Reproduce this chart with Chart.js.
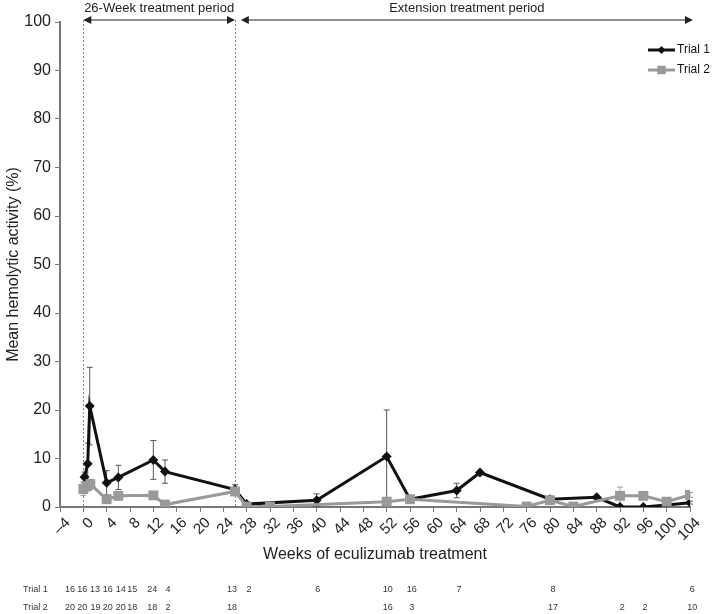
<!DOCTYPE html>
<html>
<head>
<meta charset="utf-8">
<script src="https://cdn.jsdelivr.net/npm/chart.js@4.4.0/dist/chart.umd.min.js"></script>
<style>html,body{margin:0;padding:0;background:#fff}</style>
</head>
<body>
<canvas id="myChart" width="713" height="614"></canvas>
<script>
// Trial 1 (black diamonds)
const weeks1 = [0.2, 0.75, 1.1, 4, 6, 12, 14, 26, 28, 40, 52, 56, 64, 68, 80, 88, 92, 96, 100, 104];
const trial1 = [6.2, 8.9, 20.8, 5.0, 6.1, 9.7, 7.3, 3.6, 0.6, 1.4, 10.4, 1.6, 3.4, 7.1, 1.6, 2.0, 0, 0, 0.4, 0.9];
const err1   = [1.0, 4.3, 8.0, 2.5, 2.5, 4.0, 2.4, 1.0, 0, 1.3, 9.6, 0.5, 1.5, 0, 0.5, 0, 0, 0, 0, 0.3];
// Trial 2 (grey squares)
const weeks2 = [0, 0.6, 1.2, 4, 6, 12, 14, 26, 28, 32, 52, 56, 76, 80, 84, 92, 96, 100, 104];
const trial2 = [3.7, 4.3, 4.7, 1.6, 2.3, 2.4, 0.5, 3.2, 0.1, 0.1, 1.1, 1.6, 0.1, 1.4, 0.1, 2.3, 2.3, 1.1, 2.5];
const err2   = [1.3, 1.0, 1.0, 0, 0, 0.5, 0, 0.8, 0, 0, 0, 0, 0, 0.5, 0, 1.8, 0.5, 0, 0.5];

// patient counts under the axis
const countWeeks1 = [-2.3, -0.2, 2, 4.2, 6.4, 8.4, 11.8, 14.5, 25.5, 28.4, 40.2, 52.2, 56.3, 64.4, 80.5, 104.4];
const counts1     = [16, 16, 13, 16, 14, 15, 24, 4, 13, 2, 6, 10, 16, 7, 8, 6];
const countWeeks2 = [-2.3, -0.2, 2.1, 4.2, 6.4, 8.4, 11.8, 14.5, 25.5, 52.2, 56.3, 80.5, 92.4, 96.3, 104.4];
const counts2     = [20, 20, 19, 20, 20, 18, 18, 2, 18, 16, 3, 17, 2, 2, 10];

// treatment periods
const periodLines = [0, 26];
const periods = [
  {label: '26-Week treatment period', from: 0, to: 26},
  {label: 'Extension treatment period', from: 27, to: 104.5}
];

Chart.defaults.font.family = "'Liberation Sans', Arial, sans-serif";

function arrowHead(ctx, x, y, dir) {
  ctx.beginPath();
  ctx.moveTo(x, y);
  ctx.lineTo(x - dir * 8, y - 4);
  ctx.lineTo(x - dir * 8, y + 4);
  ctx.closePath();
  ctx.fill();
}

const extras = {
  id: 'extras',
  beforeDatasetsDraw(c) {
    const {ctx, chartArea: a} = c;
    const x = c.scales.x, y = c.scales.y;
    ctx.save();
    // dotted period separators
    ctx.strokeStyle = '#888';
    ctx.lineWidth = 1;
    ctx.setLineDash([2, 2]);
    periodLines.forEach(w => {
      const px = Math.round(x.getPixelForValue(w)) + 0.5;
      ctx.beginPath();
      ctx.moveTo(px, a.top - 2);
      ctx.lineTo(px, a.bottom);
      ctx.stroke();
    });
    ctx.setLineDash([]);
    // error bars
    const bars = [[weeks1, trial1, err1, '#555'], [weeks2, trial2, err2, '#999']];
    bars.forEach(([ws, vs, es, col]) => {
      ctx.strokeStyle = col;
      ctx.lineWidth = 1;
      ws.forEach((w, i) => {
        if (!es[i]) return;
        const px = x.getPixelForValue(w);
        const top = y.getPixelForValue(vs[i] + es[i]);
        const bot = y.getPixelForValue(Math.max(0, vs[i] - es[i]));
        ctx.beginPath();
        ctx.moveTo(px, top); ctx.lineTo(px, bot);
        ctx.moveTo(px - 3, top); ctx.lineTo(px + 3, top);
        ctx.moveTo(px - 3, bot); ctx.lineTo(px + 3, bot);
        ctx.stroke();
      });
    });
    ctx.restore();
  },
  afterDraw(c) {
    const {ctx, chartArea: a} = c;
    const x = c.scales.x;
    ctx.save();
    // period arrows and labels
    ctx.strokeStyle = '#222';
    ctx.fillStyle = '#222';
    ctx.lineWidth = 1.2;
    ctx.font = "13px 'Liberation Sans', Arial, sans-serif";
    ctx.textAlign = 'center';
    ctx.textBaseline = 'middle';
    periods.forEach(p => {
      const x0 = x.getPixelForValue(p.from), x1 = x.getPixelForValue(p.to);
      const ay = a.top - 2;
      ctx.beginPath();
      ctx.moveTo(x0 + 4, ay); ctx.lineTo(x1 - 4, ay);
      ctx.stroke();
      arrowHead(ctx, x0, ay, -1);
      arrowHead(ctx, x1, ay, 1);
      ctx.fillText(p.label, (x0 + x1) / 2, a.top - 14);
    });
    // legend
    const items = [
      {label: 'Trial 1', color: '#111', style: 'rectRot', r: 4, w: 3},
      {label: 'Trial 2', color: '#999', style: 'rect', r: 6, w: 3}
    ];
    ctx.font = "12px 'Liberation Sans', Arial, sans-serif";
    ctx.textAlign = 'left';
    items.forEach((it, i) => {
      const ly = 50 + i * 20;
      ctx.strokeStyle = it.color;
      ctx.lineWidth = it.w;
      ctx.beginPath();
      ctx.moveTo(a.right - 42, ly); ctx.lineTo(a.right - 15, ly);
      ctx.stroke();
      ctx.fillStyle = it.color;
      Chart.helpers.drawPoint(ctx, {pointStyle: it.style, radius: it.r, borderWidth: 0}, a.right - 28.5, ly);
      ctx.fillStyle = '#111';
      ctx.fillText(it.label, a.right - 13, ly);
    });
    // count table
    ctx.font = "9px 'Liberation Sans', Arial, sans-serif";
    ctx.fillStyle = '#333';
    const rows = [['Trial 1', countWeeks1, counts1, 590], ['Trial 2', countWeeks2, counts2, 608]];
    rows.forEach(([name, ws, ns, ry]) => {
      ctx.textAlign = 'left';
      ctx.fillText(name, 23, ry);
      ctx.textAlign = 'center';
      ws.forEach((w, i) => ctx.fillText(String(ns[i]), x.getPixelForValue(w), ry));
    });
    ctx.restore();
  }
};

var ctx = document.getElementById('myChart').getContext('2d');
var chart = new Chart(ctx, {
  type: 'line',
  data: {
    datasets: [
      {
        label: 'Trial 1',
        data: weeks1.map((w, i) => ({x: w, y: trial1[i]})),
        borderColor: '#111',
        backgroundColor: '#111',
        borderWidth: 3,
        pointStyle: 'rectRot',
        pointRadius: 5,
        pointBorderWidth: 0,
        order: 1
      },
      {
        label: 'Trial 2',
        data: weeks2.map((w, i) => ({x: w, y: trial2[i]})),
        borderColor: '#999',
        backgroundColor: '#999',
        borderWidth: 3,
        pointStyle: 'rect',
        pointRadius: 7,
        pointBorderWidth: 0,
        order: 0
      }
    ]
  },
  options: {
    responsive: false,
    animation: false,
    layout: {padding: {top: 22, right: 23, bottom: 50, left: 0}},
    plugins: {legend: {display: false}, tooltip: {enabled: false}},
    scales: {
      x: {
        type: 'linear',
        min: -4,
        max: 104,
        ticks: {
          stepSize: 4,
          autoSkip: false,
          minRotation: 45,
          maxRotation: 45,
          labelOffset: 8,
          padding: 2,
          color: '#222',
          font: {size: 15},
          callback: v => String(v).replace('-', '–')
        },
        grid: {drawOnChartArea: false, color: '#777', tickLength: 5},
        border: {color: '#777', width: 2},
        title: {display: true, text: 'Weeks of eculizumab treatment', color: '#222', font: {size: 16}, padding: {top: 4, bottom: 0}},
        afterFit: s => { s.height = 57; }
      },
      y: {
        min: 0,
        max: 100,
        ticks: {stepSize: 10, color: '#222', font: {size: 16}, padding: 4},
        grid: {drawOnChartArea: false, color: '#777', tickLength: 5},
        border: {color: '#777', width: 2},
        title: {display: true, text: 'Mean hemolytic activity (%)', color: '#222', font: {size: 16}},
        afterFit: s => { s.width = 60; }
      }
    }
  },
  plugins: [extras]
});
</script>
</body>
</html>
